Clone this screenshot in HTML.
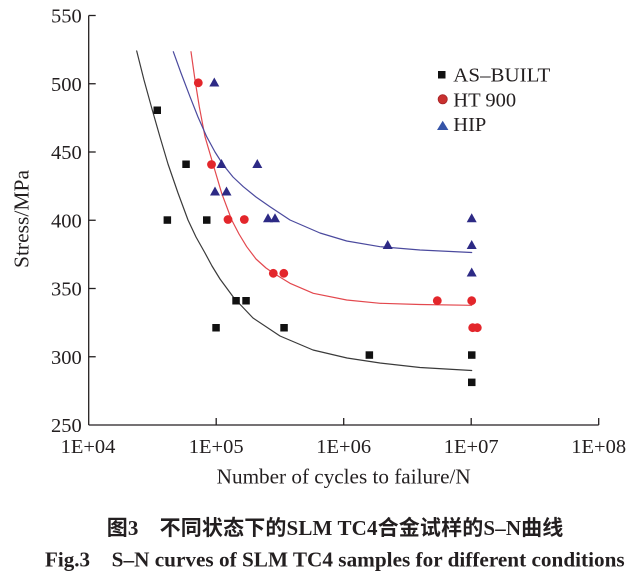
<!DOCTYPE html>
<html>
<head>
<meta charset="utf-8">
<style>
  html, body { margin:0; padding:0; background:#ffffff; }
  body { width:639px; height:576px; overflow:hidden; }
  svg { display:block; }
  .t { font-family:"Liberation Serif","Noto Serif CJK SC",serif; fill:#231f20; }
  .cap { font-family:"Liberation Serif","Noto Sans CJK SC",sans-serif; font-weight:bold; fill:#231f20; }
</style>
</head>
<body>
<svg width="639" height="576" viewBox="0 0 639 576" xmlns="http://www.w3.org/2000/svg">
  <rect x="0" y="0" width="639" height="576" fill="#ffffff"/>

  <!-- Axes -->
  <g stroke="#231f20" stroke-width="1.3" fill="none">
    <line x1="88.7" y1="15.5" x2="88.7" y2="425"/>
    <line x1="88.7" y1="425" x2="598.7" y2="425"/>
    <!-- y ticks (inward) -->
    <line x1="88.7" y1="15.5" x2="95.7" y2="15.5"/>
    <line x1="88.7" y1="83.75" x2="95.7" y2="83.75"/>
    <line x1="88.7" y1="152" x2="95.7" y2="152"/>
    <line x1="88.7" y1="220.25" x2="95.7" y2="220.25"/>
    <line x1="88.7" y1="288.5" x2="95.7" y2="288.5"/>
    <line x1="88.7" y1="356.75" x2="95.7" y2="356.75"/>
    <!-- x ticks (inward) -->
    <line x1="216.2" y1="425" x2="216.2" y2="418"/>
    <line x1="343.7" y1="425" x2="343.7" y2="418"/>
    <line x1="471.2" y1="425" x2="471.2" y2="418"/>
    <line x1="598.7" y1="425" x2="598.7" y2="418"/>
  </g>

  <!-- Y tick labels -->
  <g class="t" font-size="20.5" text-anchor="end">
    <text x="81.7" y="22.5">550</text>
    <text x="81.7" y="90.75">500</text>
    <text x="81.7" y="159">450</text>
    <text x="81.7" y="227.25">400</text>
    <text x="81.7" y="295.5">350</text>
    <text x="81.7" y="363.75">300</text>
    <text x="81.7" y="432">250</text>
  </g>

  <!-- X tick labels -->
  <g class="t" font-size="20.5" text-anchor="middle">
    <text x="88" y="453">1E+04</text>
    <text x="216.2" y="453">1E+05</text>
    <text x="343.7" y="453">1E+06</text>
    <text x="471.2" y="453">1E+07</text>
    <text x="598.7" y="453">1E+08</text>
  </g>

  <!-- Axis titles -->
  <text class="t" font-size="21" x="343.7" y="483.3" text-anchor="middle" textLength="254" lengthAdjust="spacingAndGlyphs">Number of cycles to failure/N</text>
  <text class="t" font-size="21" transform="translate(28.3,219) rotate(-90)" text-anchor="middle" textLength="98" lengthAdjust="spacingAndGlyphs">Stress/MPa</text>

  <!-- Fitted curves -->
  <g fill="none" stroke-width="1.2" stroke-linejoin="round" stroke-linecap="round">
    <polyline stroke="#3a3a3a" points="136.7,51 144,80 152,109 160,137 168,164 178,193 188,220 196,237 205,253 212,266 220,279 234,298 253,318 280,336 313,350 347,358 380,363 420,367.5 471.7,370.5"/>
    <polyline stroke="#e3484e" points="191,51.7 195,80 199.3,106.7 205,136.7 213.3,165 221.7,193.3 231.7,220 239,234 246.7,246.7 256,259 266,268 274,273.5 290,283.3 313.3,293.3 346.7,300 380,303.3 420,304.5 471.7,305.3"/>
    <polyline stroke="#4b4a9e" points="173.3,51.7 181,73 190,96.7 198,117 206.7,136.7 215,152 223.3,165 233,177 243.3,186.7 256,197 270,206.7 290,220 320,233 346.7,241 380,246.7 420,250 471.7,252.5"/>
  </g>

  <!-- AS-BUILT squares -->
  <g fill="#111111">
    <rect x="153.5" y="106.5" width="7.5" height="7.5"/>
    <rect x="182.3" y="160.5" width="7.5" height="7.5"/>
    <rect x="163.6" y="216.3" width="7.5" height="7.5"/>
    <rect x="203" y="216.3" width="7.5" height="7.5"/>
    <rect x="212.3" y="324" width="7.5" height="7.5"/>
    <rect x="232.3" y="297" width="7.5" height="7.5"/>
    <rect x="242.3" y="297" width="7.5" height="7.5"/>
    <rect x="280.3" y="324" width="7.5" height="7.5"/>
    <rect x="365.6" y="351.3" width="7.5" height="7.5"/>
    <rect x="468" y="351.3" width="7.5" height="7.5"/>
    <rect x="468" y="378.6" width="7.5" height="7.5"/>
  </g>

  <!-- HT 900 circles -->
  <g fill="#e3262b">
    <circle cx="198.3" cy="82.8" r="4.4"/>
    <circle cx="211.5" cy="164.5" r="4.4"/>
    <circle cx="228" cy="219.5" r="4.4"/>
    <circle cx="244.3" cy="219.5" r="4.4"/>
    <circle cx="273.3" cy="273.3" r="4.4"/>
    <circle cx="283.8" cy="273.3" r="4.4"/>
    <circle cx="437.3" cy="300.7" r="4.4"/>
    <circle cx="471.7" cy="300.7" r="4.4"/>
    <circle cx="472.7" cy="327.7" r="4.4"/>
    <circle cx="477.3" cy="327.7" r="4.4"/>
  </g>

  <!-- HIP triangles -->
  <g fill="#2d2a85">
    <polygon points="214.3,77.5 209.3,86.5 219.3,86.5"/>
    <polygon points="221.5,159 216.5,168 226.5,168"/>
    <polygon points="257.3,159 252.3,168 262.3,168"/>
    <polygon points="215,186.5 210,195.5 220,195.5"/>
    <polygon points="226.5,186.5 221.5,195.5 231.5,195.5"/>
    <polygon points="268,213.3 263,222.3 273,222.3"/>
    <polygon points="275,213.3 270,222.3 280,222.3"/>
    <polygon points="471.7,213.3 466.7,222.3 476.7,222.3"/>
    <polygon points="387.7,240 382.7,249 392.7,249"/>
    <polygon points="471.7,240 466.7,249 476.7,249"/>
    <polygon points="471.7,267.5 466.7,276.5 476.7,276.5"/>
  </g>

  <!-- Legend -->
  <rect x="438" y="71" width="7.5" height="7.5" fill="#111111"/>
  <circle cx="442.7" cy="99.3" r="4.6" fill="#c9302f" stroke="#a52226" stroke-width="0.8"/>
  <polygon points="442.7,120.8 437,130 448.4,130" fill="#3554a8"/>
  <g class="t" font-size="20.5">
    <text x="453.3" y="81.7" textLength="97" lengthAdjust="spacingAndGlyphs">AS–BUILT</text>
    <text x="453.3" y="106.5">HT 900</text>
    <text x="453.3" y="131">HIP</text>
  </g>

  <!-- Captions -->
  <text class="cap" font-size="21" x="106.7" y="535" textLength="456.6" lengthAdjust="spacing">图3　不同状态下的SLM TC4合金试样的S–N曲线</text>
  <text class="cap" font-size="21" x="45" y="566.7" textLength="45" lengthAdjust="spacingAndGlyphs">Fig.3</text>
  <text class="cap" font-size="21" x="111.7" y="566.7" textLength="513" lengthAdjust="spacingAndGlyphs">S–N curves of SLM TC4 samples for different conditions</text>
</svg>
</body>
</html>
